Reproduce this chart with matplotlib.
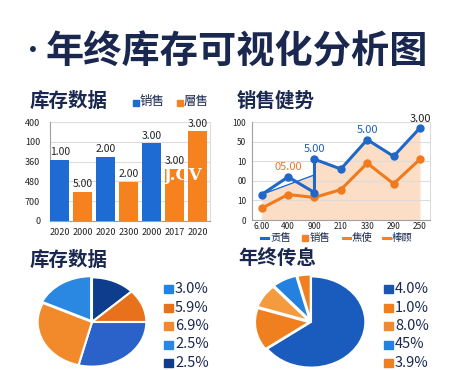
import matplotlib
matplotlib.use('Agg')
import matplotlib.pyplot as plt
from matplotlib.patches import Rectangle
from matplotlib.lines import Line2D

plt.rcParams['font.family'] = ['Noto Sans CJK SC', 'DejaVu Sans']

W, H = 460, 370
NAVY = '#1a2850'
BLUE = '#1d6bd3'
ORANGE = '#f5821f'
GRID = '#dcdcdc'

# --- bar chart data ---
bar_labels = ['2020', '2000', '2020', '2300', '2000', '2017', '2020']
bar_values = [248, 118, 259, 158, 314, 211, 362]
bar_series = ['销售', '層售', '销售', '層售', '销售', '層售', '層售']
bar_texts = ['1.00', '5.00', '2.00', '2.00', '3.00', '3.00', '3.00']
bar_yticks = [0, 80, 160, 240, 320, 400]
bar_yticklabels = ['0', '700', '480', '360', '100', '400']

# --- line chart data ---
trend_labels = ['6.00', '400', '900', '210', '330', '290', '250']
trend_blue_x = [0, 1, 2, 2, 3, 4, 5, 6]
trend_blue = [26, 44, 28, 62, 52, 82, 65, 94]
trend_orange = [12, 26, 23, 31, 58, 37, 62]
trend_area_x = [0, 2, 2, 3, 4, 5, 6]
trend_area = [26, 46, 62, 52, 82, 65, 94]
trend_yticks = [0, 20, 40, 60, 80, 100]
trend_yticklabels = ['0', '10', '00', '10', '50', '100']
trend_legend = ['贡售', '销售', '焦使', '棒顾']

# --- pie data ---
stock_share = [13, 12, 29, 28, 18]
stock_colors = ['#0d3d8c', '#e8711c', '#2a62c9', '#f28a2c', '#2b88e2']
stock_legend = ['3.0%', '5.9%', '6.9%', '2.5%', '2.5%']
stock_legend_colors = ['#2283e0', '#e8711c', '#f28a2c', '#2b88e2', '#0d3d8c']

year_share = [65, 15, 8.5, 7.5, 4]
year_colors = ['#1a5cbe', '#f0801f', '#f59b3f', '#2581e0', '#f0801f']
year_legend = ['4.0%', '1.0%', '8.0%', '45%', '3.9%']
year_legend_colors = ['#1a55b0', '#f0801f', '#f28a2c', '#2581e0', '#f0801f']


def fx(px):
    return px / W


def fy(py):
    return 1 - py / H


fig = plt.figure(figsize=(4.6, 3.7), dpi=100)
fig.patch.set_facecolor('white')

# title
fig.text(fx(33), fy(52), '•', fontsize=20, color=NAVY, ha='center', va='center')
fig.text(fx(46), fy(52), '年终库存可视化分析图', fontsize=27.5, fontweight='heavy',
         color=NAVY, ha='left', va='center')

# ---------- bar chart ----------
ax1 = fig.add_axes([fx(50), fy(221), fx(160), 99 / H])
cols = [BLUE if s == '销售' else ORANGE for s in bar_series]
x = range(len(bar_values))
ax1.bar(x, bar_values, width=0.83, color=cols, zorder=3)
for i, (v, t) in enumerate(zip(bar_values, bar_texts)):
    ax1.text(i, v + 10, t, ha='center', va='bottom', fontsize=7.5, color='#222222')
ax1.set_xlim(-0.42, 6.55)
ax1.set_ylim(0, 400)
ax1.set_yticks(bar_yticks)
ax1.set_yticklabels(bar_yticklabels)
ax1.set_xticks(list(x))
ax1.set_xticklabels(bar_labels)
ax1.tick_params(length=0, labelsize=6.5, colors='#222222', pad=5)
ax1.tick_params(axis='y', pad=7)
ax1.grid(axis='y', color=GRID, lw=0.8, zorder=0)
ax1.spines['top'].set_visible(False)
for s in ['left', 'bottom']:
    ax1.spines[s].set_color('#a0a0a0')
ax1.spines['right'].set_color(GRID)
fig.text(fx(30), fy(101), '库存数据', fontsize=14, fontweight='bold', color=NAVY,
         ha='left', va='center')
fig.text(fx(163), fy(175), 'J.CV', fontsize=12, fontweight='bold', color='white',
         family='DejaVu Serif', ha='left', va='center')

# bar legend
for xs, lab, col in [(133, '销售', BLUE), (177, '層售', ORANGE)]:
    fig.patches.append(Rectangle((fx(xs), fy(106)), fx(6), 6 / H, color=col,
                                 transform=fig.transFigure))
    fig.text(fx(xs + 7), fy(102), lab, fontsize=9, color=NAVY, ha='left', va='center')

# ---------- line chart ----------
ax2 = fig.add_axes([fx(251.7), fy(220), fx(178.3), 98 / H])
ax2.fill_between(trend_area_x, trend_area, 0, color='#fbd3b4', alpha=0.75, lw=0, zorder=1)
ax2.plot(trend_area_x[:2], trend_area[:2], color=BLUE, lw=1.0, zorder=2)
ax2.plot(range(len(trend_orange)), trend_orange, color='#f07a1c', lw=2.2,
         marker='o', ms=5, zorder=3)
ax2.plot(trend_blue_x, trend_blue, color='#1f68c8', lw=2.2, marker='o', ms=5, zorder=4)
ax2.text(2, trend_blue[3] + 5, '5.00', ha='center', va='bottom', fontsize=8,
         color='#1f5fb5')
ax2.text(4, trend_blue[5] + 5, '5.00', ha='center', va='bottom', fontsize=8,
         color='#1f5fb5')
ax2.text(6, trend_blue[7] + 4, '3.00', ha='center', va='bottom', fontsize=8,
         color='#222222')
ax2.text(1, trend_blue[1] + 5, '05.00', ha='center', va='bottom', fontsize=8,
         color='#e8782a')
ax2.set_xlim(-0.38, 6.38)
ax2.set_ylim(0, 100)
ax2.set_yticks(trend_yticks)
ax2.set_yticklabels(trend_yticklabels)
ax2.set_xticks(range(len(trend_labels)))
ax2.set_xticklabels(trend_labels)
ax2.tick_params(length=0, labelsize=6, colors='#222222', pad=4)
ax2.tick_params(axis='x', pad=1.5)
ax2.grid(axis='y', color=GRID, lw=0.8, zorder=0)
ax2.spines['top'].set_visible(False)
for s in ['left', 'bottom']:
    ax2.spines[s].set_color('#a0a0a0')
ax2.spines['right'].set_color(GRID)
fig.text(fx(237), fy(101), '销售健势', fontsize=14, fontweight='bold', color=NAVY,
         ha='left', va='center')

# line legend
leg_x = [261, 302, 343, 383]
for i, (xs, lab) in enumerate(zip(leg_x, trend_legend)):
    if i == 1:
        fig.patches.append(Rectangle((fx(xs), fy(241)), fx(6), 6 / H, color=ORANGE,
                                     transform=fig.transFigure))
        tx = xs + 8
    else:
        col = '#1f68c8' if i == 0 else ORANGE
        fig.add_artist(Line2D([fx(xs), fx(xs + 7)], [fy(238), fy(238)], color=col,
                              lw=2.2, transform=fig.transFigure))
        tx = xs + 9
    fig.text(fx(tx), fy(238), lab, fontsize=7.5, color=NAVY, ha='left', va='center')

# ---------- pies ----------
def draw_pie(cx, cy, rx, ry, vals, colors, explode):
    ax = fig.add_axes([fx(cx - rx), fy(cy + ry), fx(2 * rx), 2 * ry / H])
    ax.pie(vals, colors=colors, startangle=90, counterclock=False, explode=explode,
           radius=0.97, wedgeprops=dict(edgecolor='white', linewidth=1.5))
    ax.set_aspect('auto')
    ax.set_xlim(-1, 1)
    ax.set_ylim(-1, 1)
    ax.set_axis_off()
    return ax


draw_pie(92, 322, 56, 46, stock_share, stock_colors, [0, 0, 0, 0, 0.03])
draw_pie(311, 322, 56, 47, year_share, year_colors, [0, 0.03, 0.04, 0.05, 0.04])

fig.text(fx(30), fy(260), '库存数据', fontsize=14, fontweight='bold', color=NAVY,
         ha='left', va='center')
fig.text(fx(238), fy(259), '年终传息', fontsize=14, fontweight='bold', color=NAVY,
         ha='left', va='center')


def pie_legend(xs, labels, colors):
    for i, (lab, col) in enumerate(zip(labels, colors)):
        yc = 289 + i * 18.5
        fig.patches.append(Rectangle((fx(xs), fy(yc + 4)), fx(9), 8 / H, color=col,
                                     transform=fig.transFigure))
        fig.text(fx(xs + 11), fy(yc), lab, fontsize=10.5, color=NAVY, ha='left',
                 va='center')


pie_legend(164, stock_legend, stock_legend_colors)
pie_legend(384, year_legend, year_legend_colors)

fig.savefig('out.png', dpi=100)
